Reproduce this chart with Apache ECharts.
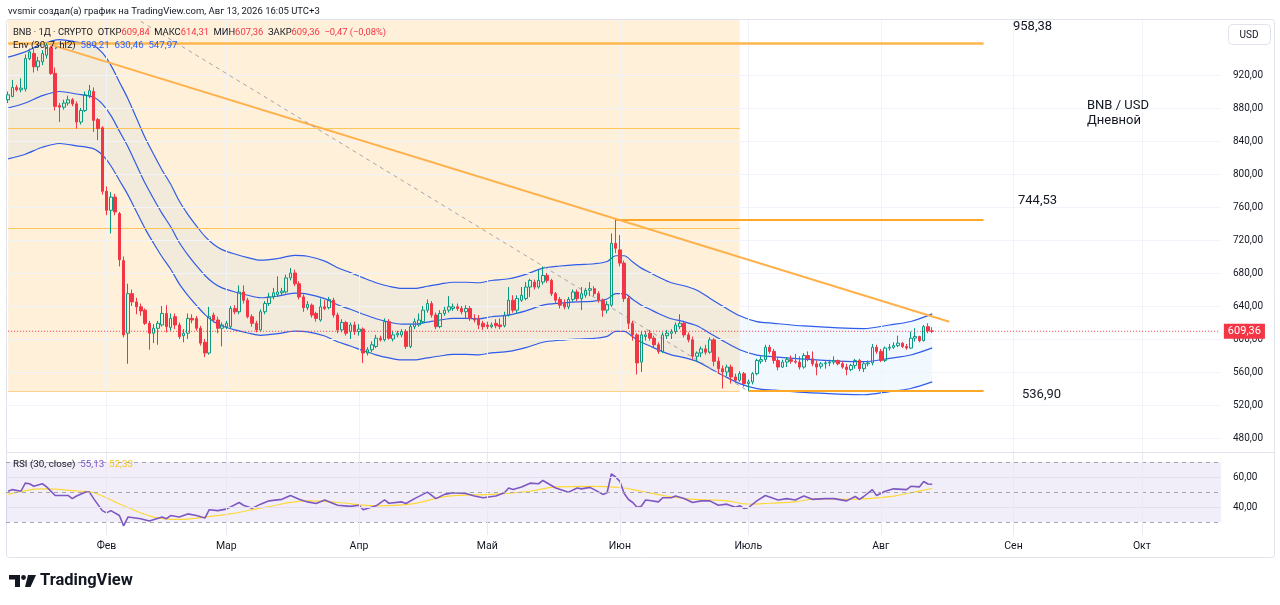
<!DOCTYPE html>
<html>
<head>
<meta charset="utf-8">
<title>BNB / USD</title>
<script src="https://cdn.jsdelivr.net/npm/echarts@6/dist/echarts.min.js"></script>
<style>
  html, body { margin: 0; padding: 0; background: #fff; }
  #chart { width: 1280px; height: 605px; }
</style>
</head>
<body>
<div id="chart"></div>
<script>
// ---- data ----
var startDay = Date.UTC(2026, 0, 9);   // first candle
var dayCount = 284;                     // axis runs to Oct 19
var monthNames = ['Янв', 'Фев', 'Мар', 'Апр', 'Май', 'Июн', 'Июль', 'Авг', 'Сен', 'Окт', 'Ноя', 'Дек'];

// daily candles [open, high, low, close], one per day from Jan 9
var ohlc = [
  [890,900,886,896],[894,914,893,905],[905,908,900,902],[902,916,899,904],[903,945,900,940],[940,952,938,948],[946,950,923,930],[930,942,925,937],
  [936,950,932,946],[944,958.38,940,956],[953,955,920,922],[922,929,877,882],[883,886,863,881],[881,890,878,886],[886,895,883,890],[890,892,882,885],
  [885,888,855,863],[863,880,860,877],[877,900,875,896],[895,908,892,901],[900,905,851,865],[866,868,841,855],[856,858,775,779],[779,785,750,756],
  [756,778,728,772],[772,776,750,754],[752,754,688,696],[695,700,602,605],[607,667,570,655],[655,660,640,645],[645,650,630,639],[639,643,628,634],
  [635,637,617,619],[619,622,587,607],[607,618,595,613],[613,622,593,619],[617,640,615,631],[631,641,608,615],[614,631,610,625],[627,631,612,617],
  [617,620,600,603],[604,612,596,607],[607,631,600,625],[625,630,619,623],[625,628,610,613],[613,616,592,595],[596,600,578,583],[583,639,581,627],
  [629,632,620,623],[623,627,607,613],[613,620,591,617],[615,622,612,619],[615,640,613,637],[637,641,630,633],[633,665,630,657],[657,665,643,647],
  [647,650,625,627],[627,630,615,619],[619,622,608,611],[611,636,609,633],[633,646,630,643],[643,656,640,651],[651,662,648,656],[654,676,651,657],
  [656,662,653,658],[657,678,655,674],[674,686,671,680],[680,684,664,667],[667,670,648,651],[651,654,633,638],[638,646,635,642],[641,643,626,629],
  [631,633,621,625],[623,649,621,639],[639,647,635,637],[638,651,636,648],[647,650,626,629],[629,632,607,611],[611,624,608,620],[620,622,604,607],
  [609,620,600,617],[617,621,605,609],[609,618,604,612],[612,614,571,583],[583,590,580,587],[587,597,584,593],[591,605,589,601],[601,604,597,599],
  [599,625,597,621],[621,624,599,601],[600,610,597,605],[605,610,602,607],[605,612,602,609],[609,612,588,591],[591,618,589,615],[615,625,612,621],
  [617,631,615,623],[621,640,619,635],[635,648,632,643],[643,646,626,629],[629,632,612,615],[615,635,613,631],[631,639,628,635],[635,652,632,639],
  [637,643,634,639],[639,643,634,637],[637,640,630,633],[633,641,625,637],[637,640,622,625],[625,630,620,623],[625,629,612,617],[619,622,611,615],
  [617,621,612,615],[615,620,613,617],[619,624,613,616],[617,625,612,615],[616,633,614,629],[629,663,627,647],[647,653,632,635],[635,653,631,649],
  [647,663,645,653],[649,669,647,663],[663,673,651,671],[669,672,660,663],[663,684,661,671],[669,688,666,677],[677,680,668,671],[671,673,652,655],
  [655,657,643,647],[648,651,637,641],[643,648,636,639],[639,651,636,648],[648,660,645,657],[657,660,646,649],[649,663,635,655],[653,662,650,659],
  [659,669,652,661],[661,664,652,655],[655,658,644,647],[647,649,627,635],[635,646,631,642],[641,728,639,716],[716,744.53,704,710],[708,726,688,692],
  [692,695,645,649],[649,652,612,619],[619,622,598,605],[605,607,557,571],[572,609,560,605],[603,610,598,605],[607,611,598,601],[601,604,590,593],
  [593,596,582,585],[585,608,583,605],[604,611,600,607],[607,612,600,609],[609,620,606,617],[615,630,612,619],[619,622,602,605],[605,608,596,599],
  [599,603,575,579],[579,585,572,583],[583,591,578,588],[588,593,581,584],[584,602,582,599],[599,601,567,573],[573,578,558,564],[564,568,540,560],
  [560,569,555,566],[566,569,546,554],[554,558,547,550],[550,561,548,558],[558,560,542,546],[546,551,536.9,548],[548,560,545,558],[558,576,556,574],
  [573,579,570,575],[575,593,572,590],[590,593,582,585],[585,588,570,574],[574,578,562,566],[566,575,565,572],[572,578,566,575],[575,580,570,573],
  [573,582,570,572],[572,579,563,566],[566,583,564,580],[580,585,573,576],[576,585,567,570],[570,574,556,566],[567,572,564,570],[570,574,564,571],
  [571,575,567,572],[572,579,569,574],[574,575,568,570],[570,573,564,566],[566,570,556,563],[563,570,561,568],[568,576,564,574],[574,576,561,564],
  [564,572,560,570],[570,574,567,571],[571,594,568,590],[590,593,582,585],[585,588,572,574],[574,591,572,589],[589,594,586,590],[590,596,588,592],
  [592,604,590,595],[595,596,589,591],[591,594,587,589],[589,609,588,601],[601,613,597,603],[603,604,596,598],[598,617,597,615],[615,619,607,609.83],
  [609.84,614.31,607.36,609.36]
];

// Envelope (30, 7, hl2): day index of each reading, basis, upper, lower
var envDay = [0,4,8,12,16,20,22,24,26,28,30,32,34,36,38,40,42,44,46,48,50,53,56,59,63,67,70,74,77,80,83,86,89,92,95,98,101,104,107,110,
  113,117,121,125,129,133,137,140,142,144,146,148,150,152,155,158,161,164,167,171,175,179,186,194,200,206,211,216];
var envMid = [880,886,895,900,897,893,885,871,852,833,811,789,770,752,736,717,702,689,677,668,662,657,653,650,652,655.5,654.5,649,641.5,636,
  630,624.5,620.5,618,618,620.5,623,625,625,624.5,627,629,634,641,643.5,645,646,648.5,655,655,648,641,636,631,624.5,621,616,607,598,587,
  580.5,578.5,575.5,573.3,572.5,576.6,580.6,589.21];
var envUp = [941.6,948.0,957.7,963.0,959.8,955.5,947.0,932.0,911.6,891.3,867.8,844.2,823.9,804.6,787.5,767.2,751.1,737.2,724.4,714.8,708.3,703.0,
  698.7,695.5,697.6,701.4,700.3,694.4,686.4,680.5,674.1,668.2,663.9,661.3,661.3,663.9,666.6,668.8,668.8,668.2,670.9,673.0,678.4,685.9,688.5,
  690.2,691.2,693.9,700.9,700.9,693.4,685.9,680.5,675.2,668.2,664.5,659.1,649.5,639.9,628.1,621.1,619.0,615.8,613.4,612.6,617.0,621.2,630.46];
var envLow = [818.4,824.0,832.4,837.0,834.2,830.5,823.1,810.0,792.4,774.7,754.2,733.8,716.1,699.4,684.5,666.8,652.9,640.8,629.6,621.2,615.7,611.0,
  607.3,604.5,606.4,609.6,608.7,603.6,596.6,591.5,585.9,580.8,577.1,574.7,574.7,577.1,579.4,581.3,581.3,580.8,583.1,585.0,589.6,596.1,598.5,
  599.9,600.8,603.1,609.2,609.2,602.6,596.1,591.5,586.8,580.8,577.5,572.9,564.5,556.1,545.9,539.9,538.0,535.2,533.2,532.4,536.2,540.0,547.97];

// RSI (30, close) and its moving average
var rsiDay = [0,1,3,4,5,6,8,9,11,14,15,16,18,19,20,22,23,24,26,27,28,31,33,36,37,38,40,42,44,46,47,49,51,54,55,57,59,61,64,66,68,70,72,74,77,
  80,82,83,86,88,89,92,93,95,98,100,102,104,107,109,111,114,116,117,118,120,122,124,125,128,131,133,134,136,137,139,140,141,142,143,144,145,146,
  147,148,149,150,152,153,155,156,158,160,162,164,166,168,170,171,172,173,175,177,179,180,182,184,186,188,191,193,196,198,199,200,202,203,205,
  207,210,211,213,214,215,216];
var rsiVal = [50.5,51.6,50.5,55.9,55.5,53.8,55.5,53.4,47.7,47.7,45.6,47.3,49.9,49.9,45.6,37.6,36.1,37.6,34.3,27.4,33.3,32.2,30.6,33.3,32.2,34.3,
  33.3,35.4,34.3,32.6,38.2,37.6,38.6,43,41.2,39.1,41.9,44.1,45.1,47.7,45.1,43.4,42.3,44.7,41.2,40.4,41.2,38.2,40.8,44.7,42.5,43.4,42.3,45.6,
  49.9,45.6,48.4,49.5,49,47.3,46.2,47.3,49.5,52.7,51.6,53.4,55.9,55.5,57.7,52.7,49.9,52.7,52.1,53.1,51.6,48.4,49.5,62,60,57,49,45,43,39.8,
  40.5,44.7,44.3,43.4,46.2,46.2,47.3,45.6,43,44.1,44.1,41.2,41.9,39.8,40.8,39.1,39.5,44.1,47.7,45.6,44.7,45.6,44.7,47.3,45.1,45.6,45.6,44.1,
  47,45.1,47,51.6,47.7,50.5,52.1,51.6,53.8,53.4,57,55.3,55.13];
var rsiMaDay = [0,8,17,20,27,34,40,46,52,60,70,77,86,94,103,113,122,128,136,143,148,153,158,163,168,173,178,184,189,195,201,207,211,216];
var rsiMaVal = [48.4,52.1,50.5,49.5,40.8,33.3,31.7,33.3,35.4,39.8,44.1,43,40.8,41.9,47.3,48.4,50.5,53.4,53.8,53,50.5,47.7,45.6,44.7,44.1,41.9,
  42.5,43.4,45.6,45.1,45.6,47.3,49.5,52.33];

// drawn levels and lines
var lastPrice = 609.36;
var levelTop = 958.38, levelMid = 744.53, levelLow = 536.90;
var fibLines = [855.8, 734.5];
var zoneEndDay = 171;        // right edge of the shaded zone
var trendStart = [9, 958.38], trendEnd = [220, 621];
var dashStart = [31, 985], dashEnd = [173, 536.9];
var priceTicks = [480, 520, 560, 600, 640, 680, 720, 760, 800, 840, 880, 920];
var rsiTicks = [40, 60];

// ---- build ----
var days = [];
for (var k = 0; k < dayCount; k++) {
  days.push(new Date(startDay + k * 86400000).toISOString().slice(0, 10));
}
var monthStarts = [];
days.forEach(function (d, i) { if (d.slice(8) === '01') monthStarts.push(i); });

function fmt(v) { return v.toFixed(2).replace('.', ','); }
function pairs(xs, ys) { return xs.map(function (x, i) { return [x, ys[i]]; }); }

var paneTop = 986.7, paneBottom = 463;
var font = 'Roboto, "Liberation Sans", sans-serif';

var chart = echarts.init(document.getElementById('chart'));

var option = {
  animation: false,
  backgroundColor: '#ffffff',
  textStyle: { fontFamily: font },
  grid: [
    { left: 6, right: 59, top: 9, height: 462 },
    { left: 6, right: 59, top: 447, height: 90 }
  ],
  xAxis: [
    { type: 'category', gridIndex: 0, data: days, boundaryGap: true, show: false },
    {
      type: 'category', gridIndex: 1, data: days, boundaryGap: true,
      axisLine: { show: false }, axisTick: { show: false }, splitLine: { show: false },
      axisLabel: {
        interval: function (i, v) { return v.slice(8) === '01'; },
        formatter: function (v) { return monthNames[+v.slice(5, 7) - 1]; },
        color: '#131722', fontSize: 10.5, margin: 4, hideOverlap: false
      }
    }
  ],
  yAxis: [
    {
      type: 'value', gridIndex: 0, position: 'right', min: 440, max: 1000, interval: 40,
      axisLine: { show: false }, axisTick: { show: false }, splitLine: { show: false },
      axisLabel: {
        color: '#131722', fontSize: 10, margin: 12,
        formatter: function (v) { return priceTicks.indexOf(v) >= 0 ? fmt(v) : ''; }
      }
    },
    {
      type: 'value', gridIndex: 1, position: 'right', min: 20, max: 80, interval: 10,
      axisLine: { show: false }, axisTick: { show: false }, splitLine: { show: false },
      axisLabel: {
        color: '#131722', fontSize: 10, margin: 12,
        formatter: function (v) { return rsiTicks.indexOf(v) >= 0 ? fmt(v) : ''; }
      }
    }
  ],
  series: [
    // grid lines + shaded zone
    {
      type: 'line', xAxisIndex: 0, yAxisIndex: 0, data: [], z: 1, silent: true,
      markArea: {
        silent: true,
        itemStyle: { color: 'rgba(255,152,0,0.15)' },
        data: [[{ coord: [0, levelLow] }, { coord: [zoneEndDay, paneTop] }]]
      },
      markLine: {
        silent: true, symbol: ['none', 'none'], label: { show: false },
        lineStyle: { color: '#f0f3fa', width: 1, type: 'solid' },
        data: priceTicks.map(function (v) { return { yAxis: v }; }).concat(
          monthStarts.map(function (m) { return [{ coord: [m, paneBottom] }, { coord: [m, paneTop] }]; }))
      }
    },
    // envelope band fill
    {
      type: 'custom', xAxisIndex: 0, yAxisIndex: 0, z: 2, silent: true,
      data: [0],
      renderItem: function (params, api) {
        var pts = [];
        for (var i = 0; i < envDay.length; i++) pts.push(api.coord([envDay[i], envUp[i]]));
        for (var j = envDay.length - 1; j >= 0; j--) pts.push(api.coord([envDay[j], envLow[j]]));
        return { type: 'polygon', shape: { points: pts }, style: { fill: 'rgba(33,150,243,0.06)' } };
      }
    },
    {
      name: 'Env up', type: 'line', xAxisIndex: 0, yAxisIndex: 0, z: 3, silent: true,
      data: pairs(envDay, envUp), smooth: 0.3, showSymbol: false,
      lineStyle: { color: '#2f5ce8', width: 1.2 }
    },
    {
      name: 'Env basis', type: 'line', xAxisIndex: 0, yAxisIndex: 0, z: 3, silent: true,
      data: pairs(envDay, envMid), smooth: 0.3, showSymbol: false,
      lineStyle: { color: '#2f5ce8', width: 1.2 }
    },
    {
      name: 'Env low', type: 'line', xAxisIndex: 0, yAxisIndex: 0, z: 3, silent: true,
      data: pairs(envDay, envLow), smooth: 0.3, showSymbol: false,
      lineStyle: { color: '#2f5ce8', width: 1.2 }
    },
    // candles
    {
      name: 'BNB', type: 'candlestick', xAxisIndex: 0, yAxisIndex: 0, z: 5,
      barWidth: '70%',
      data: ohlc.map(function (r) { return [r[0], r[3], r[2], r[1]]; }),
      itemStyle: {
        color: 'rgba(255,255,255,0)', color0: '#f23645',
        borderColor: '#089981', borderColor0: '#f23645', borderWidth: 1
      }
    },
    // last price line across the pane, with its label on the price scale
    {
      name: 'last', type: 'line', xAxisIndex: 0, yAxisIndex: 0, z: 7, silent: true,
      data: [[0, lastPrice], [dayCount - 1, lastPrice]],
      showSymbol: false, symbol: 'none',
      lineStyle: { color: '#f23645', type: [1, 2], width: 1 },
      endLabel: {
        show: true, distance: 5, formatter: fmt(lastPrice),
        color: '#ffffff', backgroundColor: '#f23645', padding: [2, 4, 2, 4],
        fontSize: 11, fontFamily: font
      }
    },
    // drawings
    {
      type: 'line', xAxisIndex: 0, yAxisIndex: 0, data: [], z: 6, silent: true,
      markLine: {
        silent: true, symbol: ['none', 'none'], label: { show: false },
        data: [
          [{ coord: [0, levelTop], lineStyle: { color: '#ffb74d', width: 2.5, type: 'solid' } }, { coord: [228, levelTop] }],
          [{ coord: [0, fibLines[0]], lineStyle: { color: '#fdc55a', width: 1, type: 'solid' } }, { coord: [zoneEndDay, fibLines[0]] }],
          [{ coord: [0, fibLines[1]], lineStyle: { color: '#fdc55a', width: 1, type: 'solid' } }, { coord: [zoneEndDay, fibLines[1]] }],
          [{ coord: [0, levelLow], lineStyle: { color: '#ffd08a', width: 1, type: 'solid' } }, { coord: [zoneEndDay, levelLow] }],
          [{ coord: [142, levelMid], lineStyle: { color: '#ffa726', width: 2, type: 'solid' } }, { coord: [228, levelMid] }],
          [{ coord: [173, levelLow], lineStyle: { color: '#ffa726', width: 2, type: 'solid' } }, { coord: [228, levelLow] }],
          [{ coord: trendStart, lineStyle: { color: '#ffb04a', width: 2, type: 'solid' } }, { coord: trendEnd }],
          [{ coord: dashStart, lineStyle: { color: '#a3a6ae', width: 1, type: [4, 4] } }, { coord: dashEnd }]
        ]
      }
    },
    // RSI pane
    {
      name: 'RSI', type: 'line', xAxisIndex: 1, yAxisIndex: 1, z: 4, silent: true,
      data: pairs(rsiDay, rsiVal), showSymbol: false,
      lineStyle: { color: '#7e57c2', width: 1.6 },
      markArea: {
        silent: true, itemStyle: { color: 'rgba(126,87,194,0.1)' },
        data: [[{ yAxis: 30 }, { yAxis: 70 }]]
      },
      markLine: {
        silent: true, symbol: ['none', 'none'], label: { show: false },
        data: [
          { yAxis: 70, lineStyle: { color: '#a3a6ae', type: [4, 4], width: 1 } },
          { yAxis: 50, lineStyle: { color: '#a3a6ae', type: [4, 4], width: 1 } },
          { yAxis: 30, lineStyle: { color: '#a3a6ae', type: [4, 4], width: 1 } },
          { yAxis: 60, lineStyle: { color: '#e3dff0', type: 'solid', width: 1 } },
          { yAxis: 40, lineStyle: { color: '#e3dff0', type: 'solid', width: 1 } }
        ].concat(monthStarts.map(function (m) {
          return [{ coord: [m, 21.3], lineStyle: { color: '#ebe8f4', type: 'solid', width: 1 } }, { coord: [m, 76] }];
        }))
      }
    },
    {
      name: 'RSI MA', type: 'line', xAxisIndex: 1, yAxisIndex: 1, z: 3, silent: true,
      data: pairs(rsiMaDay, rsiMaVal), smooth: 0.4, showSymbol: false,
      lineStyle: { color: '#fdd835', width: 1.2 }
    }
  ],
  graphic: [
    { type: 'rect', shape: { x: 6.5, y: 19.5, width: 1268, height: 538, r: 3 }, style: { fill: 'none', stroke: '#e0e3eb', lineWidth: 1 }, z: 0 },
    { type: 'line', shape: { x1: 6, y1: 452.5, x2: 1274, y2: 452.5 }, style: { stroke: '#e0e3eb', lineWidth: 1 }, z: 50 },
    { type: 'rect', shape: { x: 1228.5, y: 24.5, width: 42, height: 20, r: 4 }, style: { fill: '#fff', stroke: '#e0e3eb' }, z: 100 },
    { type: 'text', x: 1249, y: 35, z: 101, style: { text: 'USD', fill: '#131722', font: '10px ' + font, textAlign: 'center', textVerticalAlign: 'middle' } },
    { type: 'text', x: 8, y: 12, z: 100, style: { text: 'vvsmir создал(а) график на TradingView.com, Авг 13, 2026 16:05 UTC+3', fill: '#131722', font: '9.5px ' + font, textVerticalAlign: 'middle' } },
    {
      type: 'text', x: 13, y: 33, z: 100,
      style: {
        text: 'BNB · 1Д · CRYPTO  ОТКР{r|609,84}  МАКС{r|614,31}  МИН{r|607,36}  ЗАКР{r|609,36}  {r|−0,47 (−0,08%)}',
        fill: '#131722', font: '9.4px ' + font, textVerticalAlign: 'middle',
        rich: { r: { fill: '#f23645', font: '9.4px ' + font } }
      }
    },
    {
      type: 'text', x: 13, y: 46, z: 100,
      style: {
        text: 'Env (30, 7, hl2)  {b|589,21}  {b|630,46}  {b|547,97}',
        fill: '#131722', font: '9.7px ' + font, textVerticalAlign: 'middle',
        rich: { b: { fill: '#2962ff', font: '9.7px ' + font } }
      }
    },
    {
      type: 'text', x: 13, y: 465, z: 100,
      style: {
        text: 'RSI (30, close)  {p|55,13}  {y|52,33}',
        fill: '#131722', font: '9.8px ' + font, textVerticalAlign: 'middle',
        rich: { p: { fill: '#7e57c2', font: '9.8px ' + font }, y: { fill: '#f5c518', font: '9.8px ' + font } }
      }
    },
    { type: 'text', x: 1013, y: 27, z: 100, style: { text: fmt(levelTop), fill: '#131722', font: '13px ' + font, textVerticalAlign: 'middle' } },
    { type: 'text', x: 1018, y: 201, z: 100, style: { text: fmt(levelMid), fill: '#131722', font: '13px ' + font, textVerticalAlign: 'middle' } },
    { type: 'text', x: 1022, y: 395, z: 100, style: { text: fmt(levelLow), fill: '#131722', font: '13px ' + font, textVerticalAlign: 'middle' } },
    { type: 'text', x: 1087, y: 106, z: 100, style: { text: 'BNB / USD', fill: '#131722', font: '13px ' + font, textVerticalAlign: 'middle' } },
    { type: 'text', x: 1087, y: 121, z: 100, style: { text: 'Дневной', fill: '#131722', font: '13px ' + font, textVerticalAlign: 'middle' } },
    // TradingView logo
    { type: 'polygon', z: 100, shape: { points: [[9, 575], [20, 575], [20, 587], [15, 587], [15, 579.5], [9, 579.5]] }, style: { fill: '#131722' } },
    { type: 'circle', z: 100, shape: { cx: 23.5, cy: 577.5, r: 2.4 }, style: { fill: '#131722' } },
    { type: 'polygon', z: 100, shape: { points: [[28, 575], [36, 575], [30.5, 587], [25, 587]] }, style: { fill: '#131722' } },
    { type: 'text', x: 40, y: 581, z: 100, style: { text: 'TradingView', fill: '#131722', font: 'bold 16.5px Roboto, sans-serif', textVerticalAlign: 'middle' } }
  ]
};

chart.setOption(option);
</script>
</body>
</html>
